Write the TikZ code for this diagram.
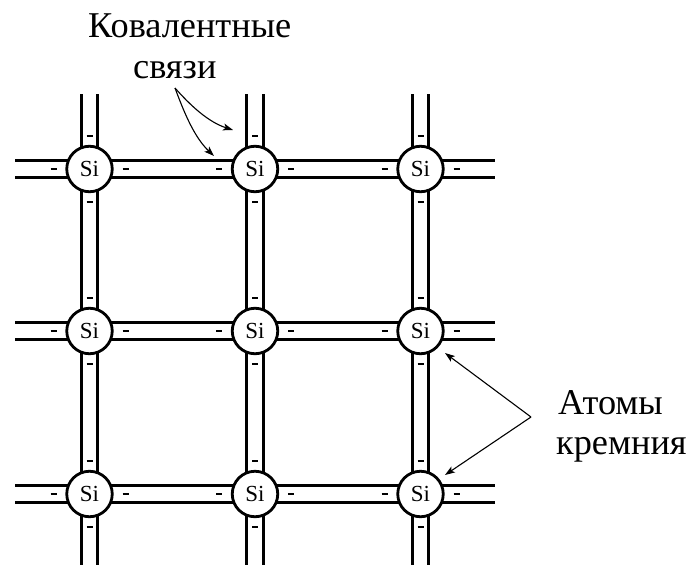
\documentclass[tikz,border=0pt]{standalone}
\usepackage{fontspec}
\setmainfont{Liberation Serif}
\usetikzlibrary{arrows.meta,calc,backgrounds}
\tikzset{
  atom/.style={circle,draw=black,fill=white,line width=2.8pt,minimum size=45.5pt,inner sep=0pt,font=\fontsize{23}{23}\selectfont},
  bond/.style={double=white,draw=black,line width=3pt,double distance=13.5pt},
  charge/.style={draw=black,line width=2pt},
  lead/.style={draw=black,line width=1.1pt,-{Stealth[length=10pt,width=7pt,inset=2.5pt]}},
  label/.style={anchor=base west,inner sep=0pt,font=\fontsize{36.3}{36.3}\selectfont}
}
\begin{document}
\begin{tikzpicture}[x=1pt,y=-1pt]
\path[use as bounding box] (0,0) rectangle (688,565);
% atoms
\foreach \c/\x in {a/89.5,b/255,c/420.5}{
  \foreach \r/\y in {1/169,2/331,3/494}{
    \node[atom] (\c\r) at (\x,\y) {Si};
  }
  \coordinate (\c T) at (\x,94);
  \coordinate (\c B) at (\x,565);
}
\foreach \r/\y in {1/169,2/331,3/494}{
  \coordinate (L\r) at (15,\y);
  \coordinate (R\r) at (495,\y);
}
% bonds
\begin{scope}[on background layer]
\fill[white] (0,0) rectangle (688,565);
\foreach \c in {a,b,c}{
  \draw[bond] (\c T) -- (\c1.center);
  \draw[bond] (\c1.center) -- (\c2.center);
  \draw[bond] (\c2.center) -- (\c3.center);
  \draw[bond] (\c3.center) -- (\c B);
}
\foreach \r in {1,2,3}{
  \draw[bond] (L\r) -- (a\r.center);
  \draw[bond] (a\r.center) -- (b\r.center);
  \draw[bond] (b\r.center) -- (c\r.center);
  \draw[bond] (c\r.center) -- (R\r);
}
\end{scope}
% charges
\foreach \n in {a1,b1,c1,a2,b2,c2,a3,b3,c3}{
  \draw[charge] ($(\n)+(-39,0)$) -- ($(\n)+(-33,0)$);
  \draw[charge] ($(\n)+(33,0)$) -- ($(\n)+(39,0)$);
  \draw[charge] ($(\n)+(-3,-33)$) -- ($(\n)+(3,-33)$);
  \draw[charge] ($(\n)+(-3,33)$) -- ($(\n)+(3,33)$);
}
% labels
\node[label] (cov1) at (88,37) {Ковалентные};
\node[label] (cov2) at (133,78) {связи};
\node[label] (atm1) at (558,414) {Атомы};
\node[label] (atm2) at (556,454) {кремния};
% leaders
\coordinate (covS) at (175,88);
\coordinate (covE1) at (233,130);
\coordinate (covE2) at (214,156);
\coordinate (atmS) at (531,417);
\coordinate (atmE1) at (445,353);
\coordinate (atmE2) at (445,475);
\draw[lead] (covS) .. controls (190,105) and (208,122) .. (covE1);
\draw[lead] (covS) .. controls (185,115) and (195,138) .. (covE2);
\draw[lead] (atmS) -- (atmE1);
\draw[lead] (atmS) -- (atmE2);
\end{tikzpicture}
\end{document}
